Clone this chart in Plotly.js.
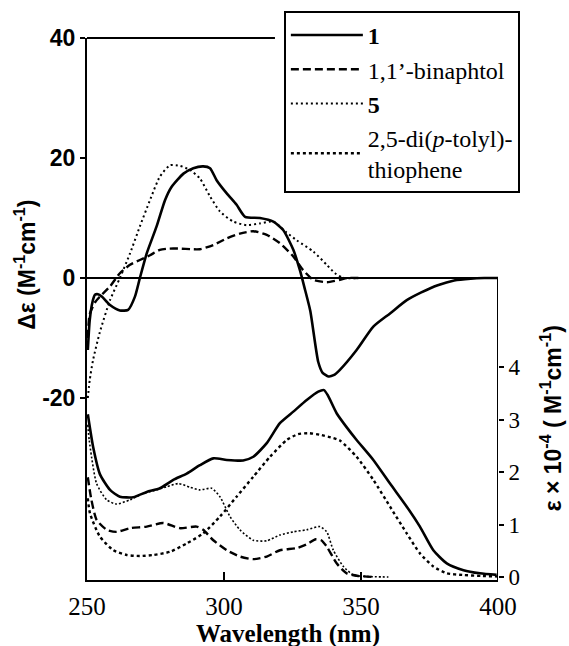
<!DOCTYPE html>
<html>
<head>
<meta charset="utf-8">
<script src="https://cdn.plot.ly/plotly-3.0.1.min.js"></script>
<style>html,body{margin:0;padding:0;background:#fff;}#chart{width:569px;height:646px;}</style>
</head>
<body>
<div id="chart"></div>
<script>
// ---- Data ----
// CD spectra (left axis, Δε in M^-1 cm^-1)
var cd1_wl = [250.3, 251, 252, 252.9, 254, 255.4, 258.4, 262, 265, 267.5, 269.3, 271.8, 275.4, 278.5, 280.9, 285.2, 288.8, 292.4, 294.9, 297.3, 301, 304.6, 307.7, 313.1, 318, 321.6, 325.3, 327.7, 329.6, 331.5, 334.4, 336, 338.1, 340, 342.3, 348.4, 354.5, 360.6, 366.7, 372, 378, 384, 390, 395, 400];
var cd1_de = [-12, -7, -4, -2.8, -2.7, -3.1, -4.5, -5.4, -5.3, -3.1, 0, 4.1, 8.6, 13, 15.2, 17.4, 18.3, 18.6, 18.3, 16.3, 14.1, 12.2, 10.2, 10, 9.4, 8.0, 4.7, 1.3, -2, -5.5, -14, -15.8, -16.4, -16.2, -15.3, -12, -8.1, -5.9, -3.7, -2.4, -1.2, -0.4, -0.1, 0, 0];

var cdB_wl = [250.3, 251, 253, 254.7, 258.4, 262, 265.7, 269.3, 273, 276.6, 280, 283.9, 288, 291.2, 296.1, 301, 305.8, 310.7, 315.6, 320.4, 325.3, 328.9, 332.6, 337.5, 342.3, 345, 350];
var cdB_de = [-10, -6, -4, -3.1, -1.4, 0.8, 2.2, 3, 3.8, 4.7, 4.9, 4.9, 4.8, 4.8, 5.5, 6.6, 7.4, 7.8, 7.2, 5.8, 3.6, 1.3, -0.3, -0.7, -0.3, 0, 0];

var cd5_wl = [250.3, 251, 252.2, 254.7, 258.4, 262, 265.7, 269.3, 273, 276.6, 280.3, 283.9, 287.6, 291.2, 294.9, 298.5, 303.4, 308.3, 313.1, 318, 322.8, 326.5, 332.6, 337.5, 340.5, 343.5, 350];
var cd5_de = [-20, -17, -13.7, -9, -3.7, 0, 4.1, 8.6, 13, 16.9, 18.8, 18.7, 18, 16.6, 13.6, 11.1, 9.4, 8.8, 9.1, 9.4, 7.6, 6.3, 4.4, 2.2, 0.8, 0.05, 0];

// UV spectra (right axis, ε × 10^-4 in M^-1 cm^-1)
var uv1_wl = [250.3, 252.3, 254.7, 258.4, 262, 266.9, 271.8, 276.6, 281.5, 286.4, 291.2, 296.1, 301, 307, 310.7, 315.6, 320.4, 325.3, 330.2, 334.4, 336.5, 338, 341.1, 344.8, 348.4, 354.5, 360.6, 366.7, 371.5, 376.4, 381.3, 387.4, 393.4, 399.5];
var uv1_e  = [3.1, 2.46, 1.96, 1.66, 1.53, 1.52, 1.62, 1.69, 1.85, 1.97, 2.13, 2.26, 2.23, 2.22, 2.29, 2.55, 2.93, 3.15, 3.37, 3.53, 3.56, 3.45, 3.12, 2.85, 2.61, 2.23, 1.78, 1.34, 0.96, 0.51, 0.26, 0.13, 0.07, 0.04];

var uvB_wl = [250.3, 251.5, 253.5, 257.2, 260.8, 265.7, 271.8, 277.8, 283.9, 290, 292.4, 296.1, 301, 305.8, 310.7, 315.6, 320.4, 326.5, 330, 333.5, 335.5, 337.5, 341.1, 344.8, 349, 355];
var uvB_e  = [1.9, 1.5, 1.09, 0.9, 0.86, 0.93, 0.96, 1.03, 0.93, 0.96, 0.9, 0.70, 0.51, 0.39, 0.34, 0.39, 0.51, 0.55, 0.62, 0.72, 0.7, 0.58, 0.26, 0.07, 0.02, 0];

var uv5_wl = [250.3, 250.8, 253.5, 257.2, 260.8, 265.7, 270.5, 275.4, 279.1, 283.3, 287.6, 291.2, 295.5, 298.5, 302.2, 305.8, 310.7, 315.6, 320.4, 325.3, 330.2, 335, 337.5, 339.9, 343.6, 347.2, 352, 360];
var uv5_e  = [2.9, 2.61, 1.78, 1.47, 1.39, 1.47, 1.59, 1.66, 1.72, 1.78, 1.71, 1.66, 1.69, 1.53, 1.15, 0.9, 0.70, 0.69, 0.8, 0.86, 0.9, 0.96, 0.86, 0.51, 0.2, 0.04, 0.01, 0];

var uvT_wl = [250.3, 251.1, 254.7, 259.6, 264.5, 269.3, 274.2, 280.3, 286.4, 292.4, 298.5, 304.6, 310.7, 316.8, 322.9, 327, 331, 335, 339, 342.3, 348.4, 354.5, 360.6, 366.7, 371.5, 376.4, 381.3, 387, 394, 400];
var uvT_e  = [1.5, 1.21, 0.77, 0.51, 0.42, 0.4, 0.42, 0.48, 0.64, 0.83, 1.15, 1.53, 1.91, 2.29, 2.61, 2.72, 2.74, 2.71, 2.66, 2.6, 2.29, 1.85, 1.34, 0.83, 0.45, 0.2, 0.07, 0.04, 0.02, 0.01];

// Axis ticks and labels
var xTicks = [250, 300, 350, 400];
var leftTicks = [40, 20, 0, -20];
var rightTicks = [0, 1, 2, 3, 4];
var names = ['<b>1</b>', '1,1\u2019-binaphtol', '<b>5</b>', '2,5-di(<i>p</i>-tolyl)-<br>thiophene'];

// ---- Ranges ----
var xRange = [250, 400];
var yRange = [-50.33, 40];
var y2Range = [-0.057, 10.267];

function tr(x, y, name, dash, width, yaxis, show, group) {
  return {
    x: x, y: y, name: name, type: 'scatter', mode: 'lines',
    yaxis: yaxis, legendgroup: group, showlegend: show,
    line: {color: '#000', dash: dash, width: width, shape: 'spline', smoothing: 0.6},
    hoverinfo: 'skip'
  };
}

var data = [
  tr(cd1_wl, cd1_de, names[0], 'solid', 2.6, 'y', true, 'g1'),
  tr(cdB_wl, cdB_de, names[1], '8px,4px', 2.4, 'y', true, 'gB'),
  tr(cd5_wl, cd5_de, names[2], '2px,3px', 2, 'y', true, 'g5'),
  tr(uvT_wl, uvT_e, names[3], '3px,3px', 2.4, 'y2', true, 'gT'),
  tr(uv1_wl, uv1_e, names[0], 'solid', 2.6, 'y2', false, 'g1'),
  tr(uvB_wl, uvB_e, names[1], '8px,4px', 2.4, 'y2', false, 'gB'),
  tr(uv5_wl, uv5_e, names[2], '2px,2px', 1.6, 'y2', false, 'g5')
];

var layout = {
  width: 569, height: 646,
  margin: {l: 87, r: 71, t: 38, b: 66, autoexpand: false},
  paper_bgcolor: '#fff', plot_bgcolor: '#fff',
  showlegend: true,
  legend: {
    x: 0.479, y: 1.05, xanchor: 'left', yanchor: 'top',
    bordercolor: '#000', borderwidth: 2, bgcolor: '#fff',
    font: {family: 'Liberation Serif', size: 24, color: '#000'},
    tracegroupgap: 0, itemwidth: 72
  },
  xaxis: {
    range: xRange, tickvals: xTicks, ticktext: xTicks.map(String),
    ticks: 'inside', ticklen: 8, tickwidth: 2, tickcolor: '#000',
    showline: true, linewidth: 2, linecolor: '#000', mirror: false,
    showgrid: false, zeroline: false, ticklabelstandoff: 3,
    tickfont: {family: 'Liberation Serif', size: 25, color: '#000'}
  },
  yaxis: {
    range: yRange, tickvals: leftTicks, ticktext: leftTicks.map(String),
    ticks: 'outside', ticklen: 5, tickwidth: 2, tickcolor: '#000',
    showline: true, linewidth: 2, linecolor: '#000',
    showgrid: false, zeroline: true, zerolinewidth: 2, zerolinecolor: '#000',
    tickfont: {family: 'Liberation Sans', size: 23, color: '#000', weight: 'bold'}
  },
  yaxis2: {
    overlaying: 'y', side: 'right', anchor: 'x',
    range: y2Range, tickvals: rightTicks, ticktext: rightTicks.map(String),
    ticks: 'outside', ticklen: 5, tickwidth: 2, tickcolor: '#000',
    showline: false, showgrid: false, zeroline: false,
    tickfont: {family: 'Liberation Serif', size: 23, color: '#000'}
  },
  shapes: [
    {type: 'line', xref: 'x', yref: 'paper', x0: 250, x1: 318.6, y0: 1, y1: 1, line: {color: '#000', width: 2}},
    {type: 'line', xref: 'x', yref: 'y', x0: 400, x1: 400, y0: 0, y1: yRange[0], line: {color: '#000', width: 2}}
  ],
  annotations: [
    {text: '<b>Wavelength (nm)</b>', xref: 'paper', yref: 'paper', x: 0.49, y: -0.1,
     xanchor: 'center', yanchor: 'middle', showarrow: false,
     font: {family: 'Liberation Serif', size: 25, color: '#000'}},
    {text: '<b>\u0394\u03b5 (M<sup>-1</sup>cm<sup>-1</sup>)</b>', xref: 'paper', yref: 'y', x: -0.151, y: 2.2,
     xanchor: 'center', yanchor: 'middle', textangle: -90, showarrow: false,
     font: {family: 'Liberation Sans', size: 23, color: '#000'}},
    {text: '<b>\u03b5 \u00d7 10<sup>-4</sup> ( M<sup>-1</sup>cm<sup>-1</sup>)</b>', xref: 'paper', yref: 'y2', x: 1.13, y: 3.03,
     xanchor: 'center', yanchor: 'middle', textangle: -90, showarrow: false,
     font: {family: 'Liberation Sans', size: 23, color: '#000'}}
  ]
};

Plotly.newPlot('chart', data, layout, {displayModeBar: false, staticPlot: true});
</script>
</body>
</html>
